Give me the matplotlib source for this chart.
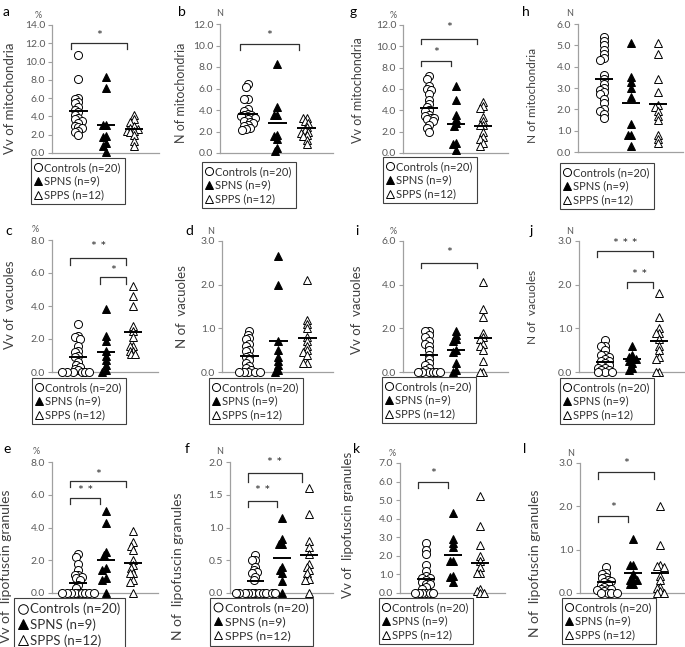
import numpy as np
import matplotlib
matplotlib.use("Agg")
import matplotlib.pyplot as plt
from matplotlib.lines import Line2D

plt.rcParams['font.family'] = ['Lato', 'DejaVu Sans']

W, H = 685, 647
fig = plt.figure(figsize=(W / 100, H / 100), dpi=100)

group_labels = ['Controls (n=20)', 'SPNS (n=9)', 'SPPS (n=12)']

# ---------------- data ----------------
a_controls = [10.7, 8.1, 6.0, 5.9, 5.6, 5.5, 5.0, 4.7, 4.5, 4.2, 3.8, 3.7, 3.5, 3.3, 3.0, 2.8, 2.7, 2.4, 2.3, 2.0]
a_spns = [8.3, 7.1, 3.1, 3.1, 1.9, 1.8, 1.1, 0.8, 0.1]
a_spps = [4.2, 3.7, 3.4, 2.9, 2.7, 2.6, 2.4, 2.4, 2.3, 2.0, 1.3, 0.8]
a_means = [4.63, 3.03, 2.62]

b_controls = [6.4, 6.1, 5.0, 5.0, 4.1, 3.9, 3.6, 3.5, 3.5, 3.4, 3.3, 3.2, 3.0, 2.9, 2.8, 2.6, 2.5, 2.3, 2.2, 2.1]
b_spns = [8.3, 4.3, 3.5, 3.5, 1.7, 1.6, 1.3, 0.5, 0.2]
b_spps = [3.3, 3.3, 3.0, 2.8, 2.4, 2.1, 2.0, 1.9, 1.7, 1.6, 1.2, 0.8]
b_means = [3.66, 2.79, 2.33]

g_controls = [7.2, 6.9, 6.3, 6.0, 5.9, 5.5, 5.0, 4.6, 4.3, 4.0, 3.9, 3.6, 3.5, 3.3, 3.3, 3.2, 3.0, 2.6, 2.3, 2.0]
g_spns = [6.3, 5.0, 3.6, 3.2, 2.8, 2.5, 0.9, 0.8, 0.3]
g_spps = [4.8, 4.4, 4.2, 3.4, 3.0, 2.6, 2.6, 2.0, 1.5, 1.3, 0.9, 0.7]
g_means = [4.22, 2.75, 2.5]

h_controls = [5.4, 5.2, 5.0, 4.8, 4.6, 4.4, 4.3, 3.6, 3.4, 3.2, 3.0, 2.9, 2.8, 2.7, 2.5, 2.3, 2.0, 1.9, 1.8, 1.6]
h_spns = [5.1, 3.5, 3.3, 3.0, 2.6, 1.3, 0.8, 0.8, 0.3]
h_spps = [5.1, 4.6, 3.4, 2.8, 2.2, 2.1, 1.9, 1.7, 1.5, 0.8, 0.6, 0.4]
h_means = [3.4, 2.3, 2.24]

c_controls = [2.9, 2.2, 2.1, 2.0, 1.6, 1.3, 1.2, 1.0, 0.9, 0.6, 0.4, 0.3, 0.2, 0.1, 0.0, 0.0, 0.0, 0.0, 0.0, 0.0]
c_spns = [3.8, 2.2, 1.9, 1.3, 1.0, 0.7, 0.4, 0.1, 0.0]
c_spps = [5.2, 4.6, 4.0, 2.8, 2.5, 2.1, 1.6, 1.6, 1.3, 1.3, 1.1, 1.1]
c_means = [0.89, 1.19, 2.42]

d_controls = [0.93, 0.85, 0.77, 0.75, 0.65, 0.6, 0.5, 0.47, 0.37, 0.35, 0.27, 0.2, 0.13, 0.1, 0.05, 0.0, 0.0, 0.0, 0.0, 0.0]
d_spns = [2.65, 2.0, 0.7, 0.5, 0.35, 0.25, 0.15, 0.05, 0.0]
d_spps = [2.1, 1.2, 1.1, 1.0, 0.8, 0.7, 0.6, 0.5, 0.45, 0.4, 0.2, 0.2]
d_means = [0.36, 0.72, 0.79]

i_controls = [1.9, 1.9, 1.7, 1.6, 1.4, 1.3, 1.2, 1.0, 0.8, 0.6, 0.4, 0.3, 0.2, 0.1, 0.0, 0.0, 0.0, 0.0, 0.0, 0.0]
i_spns = [1.9, 1.7, 1.5, 1.4, 1.0, 0.9, 0.4, 0.1, 0.0]
i_spps = [4.1, 2.9, 2.5, 1.8, 1.6, 1.5, 1.3, 1.2, 1.0, 0.5, 0.0, 0.0]
i_means = [0.79, 1.0, 1.55]

j_controls = [0.73, 0.6, 0.6, 0.5, 0.4, 0.4, 0.35, 0.3, 0.25, 0.25, 0.2, 0.15, 0.15, 0.1, 0.1, 0.05, 0.05, 0.0, 0.0, 0.0]
j_spns = [0.6, 0.4, 0.35, 0.3, 0.3, 0.25, 0.2, 0.1, 0.05]
j_spps = [1.8, 1.25, 1.0, 0.9, 0.9, 0.75, 0.6, 0.5, 0.35, 0.3, 0.0, 0.0]
j_means = [0.24, 0.3, 0.7]

e_controls = [2.4, 2.2, 1.8, 1.4, 1.1, 1.1, 1.0, 0.9, 0.8, 0.5, 0.3, 0.0, 0.0, 0.0, 0.0, 0.0, 0.0, 0.0, 0.0, 0.0]
e_spns = [5.0, 4.3, 2.5, 2.3, 1.5, 1.4, 0.9, 0.8, 0.0]
e_spps = [3.8, 3.1, 2.9, 2.6, 2.0, 1.7, 1.5, 1.2, 1.2, 0.8, 0.7, 0.0]
e_means = [0.61, 2.04, 1.83]

f_controls = [0.58, 0.5, 0.5, 0.4, 0.35, 0.32, 0.3, 0.25, 0.2, 0.0, 0.0, 0.0, 0.0, 0.0, 0.0, 0.0, 0.0, 0.0, 0.0, 0.0]
f_spns = [1.15, 0.83, 0.75, 0.75, 0.4, 0.35, 0.3, 0.18, 0.0]
f_spps = [1.6, 1.2, 0.8, 0.7, 0.6, 0.45, 0.4, 0.35, 0.3, 0.22, 0.2, 0.0]
f_means = [0.19, 0.53, 0.585]

k_controls = [2.7, 2.3, 2.1, 1.5, 1.2, 0.9, 0.8, 0.8, 0.7, 0.6, 0.5, 0.5, 0.3, 0.2, 0.0, 0.0, 0.0, 0.0, 0.0, 0.0]
k_spns = [4.3, 2.9, 2.7, 2.5, 1.7, 1.7, 0.9, 0.85, 0.6]
k_spps = [5.2, 3.6, 2.6, 2.0, 1.7, 1.4, 1.1, 1.1, 0.2, 0.1, 0.0, 0.0]
k_means = [0.75, 2.05, 1.64]

l_controls = [0.6, 0.47, 0.45, 0.38, 0.35, 0.3, 0.28, 0.25, 0.2, 0.19, 0.15, 0.1, 0.1, 0.09, 0.07, 0.05, 0.0, 0.0, 0.0, 0.0]
l_spns = [1.25, 0.65, 0.65, 0.45, 0.3, 0.3, 0.3, 0.2, 0.2]
l_spps = [2.0, 1.1, 0.65, 0.63, 0.6, 0.4, 0.3, 0.15, 0.12, 0.05, 0.0, 0.0]
l_means = [0.245, 0.47, 0.46]

# significance brackets: (group i, group j, bracket top, tick bottom, star y, label)
a_sig = [(0, 2, 12.0, 11.4, 12.75, '*')]
b_sig = [(0, 2, 10.1, 9.6, 10.85, '*')]
g_sig = [(0, 2, 10.7, 10.2, 11.7, '*'), (0, 1, 8.65, 8.2, 9.4, '*')]
h_sig = []
c_sig = [(0, 2, 6.9, 6.5, 7.55, '* *'), (1, 2, 5.73, 5.35, 6.15, '*')]
d_sig = []
i_sig = [(0, 2, 5.0, 4.75, 5.47, '*')]
j_sig = [(0, 2, 2.77, 2.64, 2.92, '* * *'), (1, 2, 2.07, 1.93, 2.22, '* *')]
e_sig = [(0, 2, 6.82, 6.48, 7.23, '*'), (0, 1, 5.8, 5.46, 6.21, '* *')]
f_sig = [(0, 2, 1.83, 1.7, 1.98, '* *'), (0, 1, 1.41, 1.32, 1.55, '* *')]
k_sig = [(0, 1, 5.98, 5.63, 6.43, '*')]
l_sig = [(0, 2, 2.79, 2.64, 2.98, '*'), (0, 1, 1.78, 1.64, 1.95, '*')]

# ---------------- layout (pixels) ----------------
panels = [
    # key, ylabel, unit, ymax, ystep, rect(left, top, width, bottom), legend(left, top),
    # ylabel(x, y, fontsize), letter(x, y), unit dx, legend fontsize
    ('a', 'Vv of mitochondria', '%', 14, 2, (52, 25, 107, 153), (31, 158), (10, 98, 9.5), (3, 6), -14, 8),
    ('b', 'N of mitochondria', 'N', 12, 2, (220, 24, 113, 153), (202, 162), (181, 93, 9), (178, 6), 0, 8),
    ('g', 'Vv of mitochondria', '%', 12, 2, (403, 25, 105, 153), (383, 157), (358, 90, 9), (350, 6), -10, 8),
    ('h', 'N of mitochondria', 'N', 6, 1, (578, 24, 105, 152), (560, 163), (533, 95, 8.5), (522, 6), -8, 8),
    ('c', 'Vv of  vacuoles', '%', 8, 2, (52, 240, 106, 372), (32, 378), (10, 305, 9.5), (5, 225), -17, 8),
    ('d', 'N of  vacuoles', 'N', 3, 1, (222, 241, 111, 372), (209, 378), (182, 307, 9.5), (185, 225), -11, 8),
    ('i', 'Vv of  vacuoles', '%', 6, 2, (403, 241, 105, 372), (382, 377), (357, 310, 9.5), (355, 225), -10, 8),
    ('j', 'N of  vacuoles', 'N', 3, 1, (579, 241, 105, 372), (560, 378), (533, 307, 8.5), (530, 225), -9, 8),
    ('e', 'Vv of  lipofuscin granules', '%', 8, 2, (52, 462, 106, 593), (14, 598), (6, 566, 10), (3, 443), -16, 9.5),
    ('f', 'N of  lipofuscin granules', 'N', 2, 0.5, (230, 462, 103, 593), (210, 598), (178, 566, 10), (185, 443), -10, 8.8),
    ('k', 'Vv of  lipofuscin granules', '%', 7, 1, (400, 463, 105, 593), (379, 598), (348, 525, 9.5), (353, 443), -8, 8),
    ('l', 'N of  lipofuscin granules', 'N', 3, 1, (580, 463, 105, 593), (562, 598), (535, 563, 10), (523, 443), -9, 8),
]

data = {
    'a': (a_controls, a_spns, a_spps, a_means, a_sig),
    'b': (b_controls, b_spns, b_spps, b_means, b_sig),
    'g': (g_controls, g_spns, g_spps, g_means, g_sig),
    'h': (h_controls, h_spns, h_spps, h_means, h_sig),
    'c': (c_controls, c_spns, c_spps, c_means, c_sig),
    'd': (d_controls, d_spns, d_spps, d_means, d_sig),
    'i': (i_controls, i_spns, i_spps, i_means, i_sig),
    'j': (j_controls, j_spns, j_spps, j_means, j_sig),
    'e': (e_controls, e_spns, e_spps, e_means, e_sig),
    'f': (f_controls, f_spns, f_spps, f_means, f_sig),
    'k': (k_controls, k_spns, k_spps, k_means, k_sig),
    'l': (l_controls, l_spns, l_spps, l_means, l_sig),
}

styles = [
    dict(marker='o', mfc='white', mec='black'),
    dict(marker='^', mfc='black', mec='black'),
    dict(marker='^', mfc='white', mec='black'),
]
MS = 5.8
GX = [1, 2, 3]
BX = [0.72, 1.8, 2.75]
XLIM = (0.05, 3.9)
AX_COL = '#a0a0a0'
TXT_COL = '#595959'


def swarm_offsets(vals, ypx, min_d=3.6, step=1.8):
    placed = []
    offs = [0.0] * len(vals)
    for idx in sorted(range(len(vals)), key=lambda k: -vals[k]):
        y = vals[idx] * ypx
        c = 0.0
        for m in range(0, 80):
            c = 0.0 if m == 0 else ((m + 1) // 2) * step * (-1 if m % 2 else 1)
            if all((c - px) ** 2 + (y - py) ** 2 >= min_d ** 2 for px, py in placed):
                break
        placed.append((c, y))
        offs[idx] = c
    return offs


for (key, ylab, unit, ymax, ystep, rect, leg, ylp, letp, udx, lfs) in panels:
    left, top, width, bottom = rect
    ax = fig.add_axes([left / W, 1 - bottom / H, width / W, (bottom - top) / H])
    ax.set_xlim(*XLIM)
    ax.set_ylim(0, ymax)
    xpx = width / (XLIM[1] - XLIM[0])
    ypx = (bottom - top) / ymax
    controls, spns, spps, means, sig = data[key]
    for gi, vals in enumerate([controls, spns, spps]):
        offs = swarm_offsets(vals, ypx)
        xs = [GX[gi] + o / xpx for o in offs]
        ax.plot(xs, vals, ls='none', ms=MS, mew=0.7, clip_on=False, zorder=3, **styles[gi])
        ax.hlines(means[gi], GX[gi] - 0.33, GX[gi] + 0.33, color='black', lw=1.4, zorder=5)
    for (g1, g2, yt, yb, ys, lab) in sig:
        ax.plot([BX[g1], BX[g1], BX[g2], BX[g2]], [yb, yt, yt, yb], color='#303030', lw=0.9,
                clip_on=False, zorder=4)
        ax.text((BX[g1] + BX[g2]) / 2, ys, lab, ha='center', va='center', fontsize=10,
                color='#303030', zorder=4)
    for s in ['top', 'right']:
        ax.spines[s].set_visible(False)
    for s in ['left', 'bottom']:
        ax.spines[s].set_color(AX_COL)
        ax.spines[s].set_linewidth(0.9)
    ax.set_xticks([])
    ticks = np.arange(0, ymax + 1e-9, ystep)
    ax.set_yticks(ticks)
    ax.set_yticklabels(['%.1f' % t for t in ticks])
    ax.tick_params(axis='y', direction='out', length=3, width=0.8, color=AX_COL,
                   labelsize=7.5, labelcolor=TXT_COL, pad=2)
    ax.patch.set_alpha(0)
    # unit label
    fig.text((left + udx) / W, 1 - (top - 10) / H, unit, ha='center', va='center',
             fontsize=6.5, color=TXT_COL)
    # y label
    fig.text(ylp[0] / W, 1 - ylp[1] / H, ylab, rotation=90, ha='center', va='center',
             fontsize=ylp[2], color='#404040')
    # panel letter
    fig.text(letp[0] / W, 1 - letp[1] / H, key, ha='left', va='top', fontsize=10, color='black')
    # legend
    handles = [Line2D([], [], ls='none', ms=MS * lfs / 8, mew=0.7, **st) for st in styles]
    lg = ax.legend(handles, group_labels, loc='upper left',
                   bbox_to_anchor=(leg[0] / W, 1 - leg[1] / H), bbox_transform=fig.transFigure,
                   frameon=True, fancybox=False, edgecolor='#404040', framealpha=1,
                   fontsize=lfs, handlelength=0.6, handletextpad=0.25, borderpad=0.35,
                   labelspacing=0.25, borderaxespad=0)
    lg.get_frame().set_linewidth(0.8)
    for tx in lg.get_texts():
        tx.set_color('#303030')

fig.savefig('out.png', dpi=100)
